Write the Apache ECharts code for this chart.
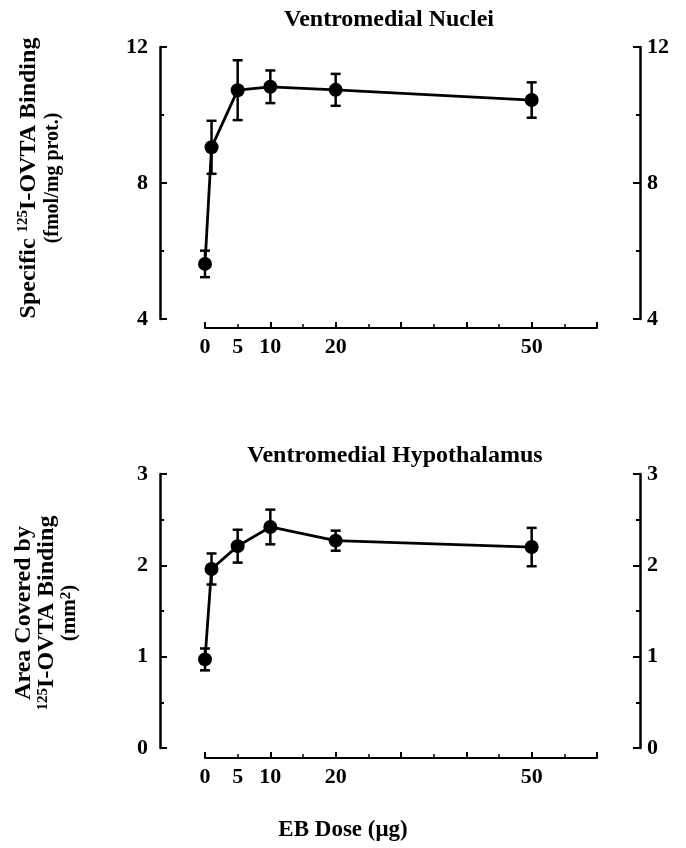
<!DOCTYPE html>
<html>
<head>
<meta charset="utf-8">
<script src="https://cdn.jsdelivr.net/npm/echarts@6/dist/echarts.min.js"></script>
<style>
html,body{margin:0;padding:0;background:#fff;}
#chart{width:686px;height:848px;}
</style>
</head>
<body>
<div id="chart"></div>
<script>
// EB dose (ug) and the values
var doses = [0, 1, 5, 10, 20, 50];
var doseLabels = [0, 5, 10, 20, 50];
var nucleiMean = [5.62, 9.05, 10.73, 10.83, 10.74, 10.44];
var nucleiErr = [0.39, 0.78, 0.88, 0.48, 0.47, 0.52];
var hypoMean = [0.97, 1.96, 2.21, 2.42, 2.27, 2.20];
var hypoErr = [0.12, 0.17, 0.18, 0.19, 0.11, 0.21];

var serif = 'Liberation Serif';

function pairs(means) {
    var out = [];
    for (var i = 0; i < doses.length; i++) {
        out.push([doses[i], means[i]]);
    }
    return out;
}

function errorBars(yIdx, means, errs) {
    var data = [];
    for (var i = 0; i < doses.length; i++) {
        data.push([doses[i], means[i] - errs[i], means[i] + errs[i]]);
    }
    return {
        type: 'custom',
        xAxisIndex: yIdx == 0 ? 0 : 1,
        yAxisIndex: yIdx,
        z: 2,
        data: data,
        renderItem: function (params, api) {
            var lo = api.coord([api.value(0), api.value(1)]);
            var hi = api.coord([api.value(0), api.value(2)]);
            var w = 5;
            var st = {stroke: '#000', lineWidth: 2.5};
            return {
                type: 'group',
                children: [
                    {type: 'line', shape: {x1: lo[0], y1: lo[1], x2: hi[0], y2: hi[1]}, style: st},
                    {type: 'line', shape: {x1: lo[0] - w, y1: lo[1], x2: lo[0] + w, y2: lo[1]}, style: st},
                    {type: 'line', shape: {x1: hi[0] - w, y1: hi[1], x2: hi[0] + w, y2: hi[1]}, style: st}
                ]
            };
        }
    };
}

function yAxisOf(grid, pos, min, max, interval) {
    return {
        type: 'value',
        gridIndex: grid,
        position: pos,
        offset: pos == 'left' ? 45 : 43,
        min: min,
        max: max,
        interval: interval,
        axisLine: {show: true, onZero: false, lineStyle: {color: '#000', width: 2.5}},
        axisTick: {show: true, inside: true, length: 7, lineStyle: {color: '#000', width: 2}},
        minorTick: {show: true, splitNumber: 2, length: 4, lineStyle: {color: '#000', width: 2}},
        splitLine: {show: false},
        axisLabel: {
            margin: pos == 'left' ? 12 : 7,
            color: '#000',
            fontFamily: serif,
            fontWeight: 'bold',
            fontSize: 22
        }
    };
}

function xAxisOf(grid, off) {
    return {
        type: 'value',
        gridIndex: grid,
        position: 'bottom',
        offset: off,
        min: 0,
        max: 60,
        interval: 10,
        axisLine: {show: true, onZero: false, lineStyle: {color: '#000', width: 2}},
        axisTick: {show: true, inside: true, length: 6, lineStyle: {color: '#000', width: 2}},
        minorTick: {show: true, splitNumber: 2, length: 4, lineStyle: {color: '#000', width: 1.5}},
        splitLine: {show: false},
        axisLabel: {
            customValues: doseLabels,
            margin: 8,
            color: '#000',
            fontFamily: serif,
            fontWeight: 'bold',
            fontSize: 22
        }
    };
}

function lineSeries(xi, yi, means) {
    return {
        type: 'line',
        xAxisIndex: xi,
        yAxisIndex: yi,
        z: 3,
        data: pairs(means),
        symbol: 'circle',
        symbolSize: 14,
        itemStyle: {color: '#000'},
        lineStyle: {color: '#000', width: 2.8},
        animation: false
    };
}

var chart = echarts.init(document.getElementById('chart'), null, {renderer: 'canvas'});

var option = {
    backgroundColor: '#fff',
    animation: false,
    grid: [
        {left: 205, width: 392, top: 47, height: 272},
        {left: 205, width: 392, top: 474, height: 274}
    ],
    xAxis: [xAxisOf(0, 9), xAxisOf(1, 10)],
    yAxis: [
        yAxisOf(0, 'left', 4, 12, 4),
        yAxisOf(0, 'right', 4, 12, 4),
        yAxisOf(1, 'left', 0, 3, 1),
        yAxisOf(1, 'right', 0, 3, 1)
    ],
    series: [
        errorBars(0, nucleiMean, nucleiErr),
        lineSeries(0, 0, nucleiMean),
        errorBars(2, hypoMean, hypoErr),
        lineSeries(1, 2, hypoMean)
    ],
    graphic: [
        {
            type: 'text', x: 389, y: 20,
            style: {text: 'Ventromedial Nuclei', font: 'bold 24px "Liberation Serif"', fill: '#000', align: 'center', verticalAlign: 'middle'}
        },
        {
            type: 'text', x: 395, y: 456,
            style: {text: 'Ventromedial Hypothalamus', font: 'bold 24px "Liberation Serif"', fill: '#000', align: 'center', verticalAlign: 'middle'}
        },
        {
            type: 'text', x: 343, y: 830,
            style: {text: 'EB Dose (\u03bcg)', font: 'bold 23px "Liberation Serif"', fill: '#000', align: 'center', verticalAlign: 'middle'}
        },
        {
            type: 'text', x: 40, y: 178, rotation: Math.PI / 2,
            style: {
                text: '{a|Specific }{s|125}{a|I-OVTA Binding}\n{b|(fmol/mg prot.)}',
                align: 'center', verticalAlign: 'middle', fill: '#000',
                rich: {
                    a: {fontFamily: serif, fontWeight: 'bold', fontSize: 24, lineHeight: 25},
                    s: {fontFamily: serif, fontWeight: 'bold', fontSize: 15, lineHeight: 25, verticalAlign: 'top'},
                    b: {fontFamily: serif, fontWeight: 'bold', fontSize: 20, lineHeight: 23}
                }
            }
        },
        {
            type: 'text', x: 47, y: 613, rotation: Math.PI / 2,
            style: {
                text: '{a|Area Covered by}\n{s|125}{a|I-OVTA Binding}\n{b|(mm}{s|2}{b|)}',
                align: 'center', verticalAlign: 'middle', fill: '#000',
                rich: {
                    a: {fontFamily: serif, fontWeight: 'bold', fontSize: 24, lineHeight: 23},
                    s: {fontFamily: serif, fontWeight: 'bold', fontSize: 15, lineHeight: 23, verticalAlign: 'top'},
                    b: {fontFamily: serif, fontWeight: 'bold', fontSize: 21, lineHeight: 23}
                }
            }
        }
    ]
};
chart.setOption(option);
</script>
</body>
</html>
